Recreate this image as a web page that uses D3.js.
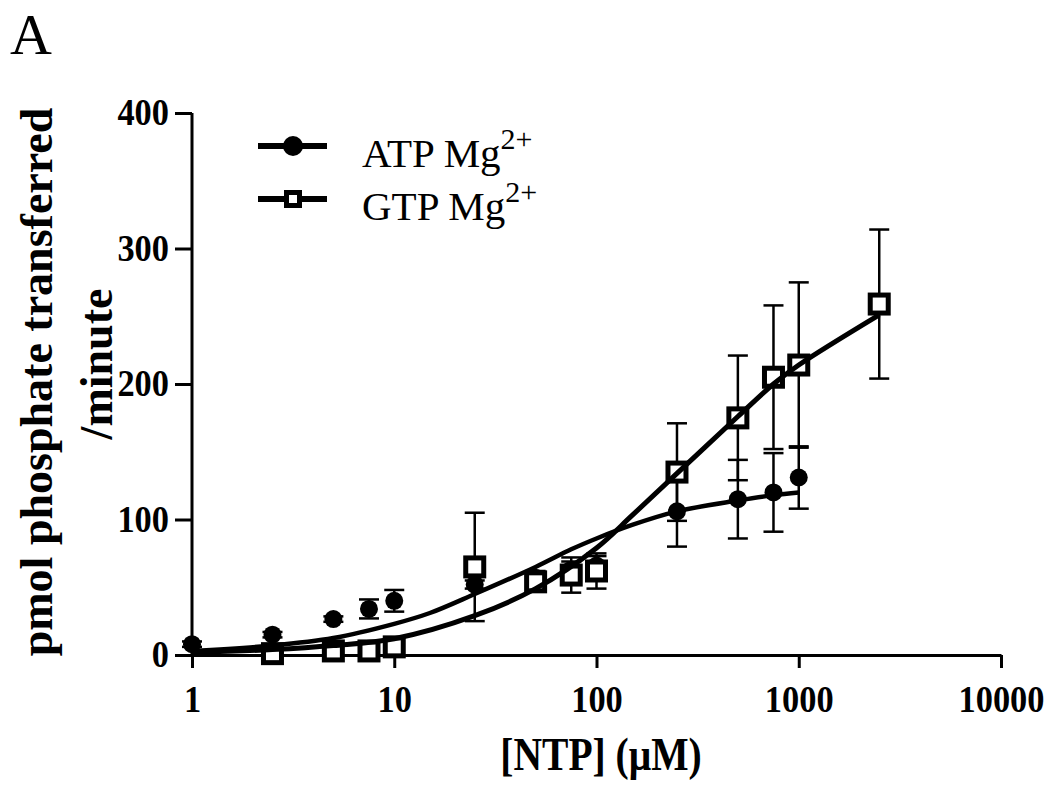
<!DOCTYPE html>
<html>
<head>
<meta charset="utf-8">
<script src="https://cdn.jsdelivr.net/npm/d3@7"></script>
<style>
  html, body { margin: 0; padding: 0; background: #fff; }
  svg { display: block; }
  text { font-family: "Liberation Serif", "Times New Roman", serif; fill: #000; }
</style>
</head>
<body>
<svg id="chart" width="1050" height="791"></svg>
<script>
// ---- data ----
const xTicks = [1, 10, 100, 1000, 10000];
const yTicks = [0, 100, 200, 300, 400];

const atpConc = [1, 2.5, 5, 7.5, 10, 25, 50, 75, 100, 250, 500, 750, 1000];
const atpRate = [8, 15, 26.5, 34, 40, 52, 57, 63, 66, 106, 115, 120, 131];
const atpErr  = [2, 2, 2, 7, 8, 3, 5, 6, 7, 26, 29, 29, 23];

const gtpConc = [2.5, 5, 7.5, 10, 25, 50, 75, 100, 250, 500, 750, 1000, 2500];
const gtpRate = [1, 3, 3, 6, 65, 54, 59, 62, 135, 175, 205, 214, 259];
const gtpErr  = [0, 0, 0, 0, 40, 5, 13, 13, 36, 46, 53, 61, 55];

// fitted curves
const atpFitConc = [1, 2.5, 5, 10, 15, 25, 50, 75, 100, 150, 250, 500, 750, 1000];
const atpFitRate = [3, 7, 12.5, 23, 31, 45, 65, 78, 86, 96, 106, 114, 118, 120];
const gtpFitConc = [1, 2.5, 5, 10, 25, 50, 100, 150, 250, 500, 750, 1000, 2500];
const gtpFitRate = [2, 4, 7, 12, 29, 49, 79, 103, 134, 176, 200, 214, 251];

const seriesNames = ["ATP Mg", "GTP Mg"];

// ---- chart ----
const svg = d3.select("#chart");
const x = d3.scaleLog().domain([1, 10000]).range([192, 1001]);
const y = d3.scaleLinear().domain([0, 400]).range([655, 113]);

const SX = 0.93;  // tick-label lettering is slightly condensed
const SXT = 0.86; // x title lettering condensed

// axes
const xAxis = svg.append("g").attr("transform", `translate(0,${y(0)})`)
  .call(d3.axisBottom(x).tickValues(xTicks).tickFormat(d3.format("d"))
        .tickSize(13).tickSizeOuter(0).tickPadding(18));
const yAxis = svg.append("g").attr("transform", `translate(${x(1)},0)`)
  .call(d3.axisLeft(y).tickValues(yTicks).tickFormat(d3.format("d"))
        .tickSize(17).tickSizeOuter(0).tickPadding(6));

[xAxis, yAxis].forEach(g => {
  g.select(".domain").attr("stroke", "#000").attr("stroke-width", 3);
  g.selectAll(".tick line").attr("stroke", "#000").attr("stroke-width", 3);
  g.selectAll(".tick text").attr("font-size", 37).attr("font-weight", "bold")
    .attr("fill", "#000").style("font-family", '"Liberation Serif", serif');
});
xAxis.selectAll(".tick text").attr("transform", `scale(${SX},1)`);
yAxis.selectAll(".tick text").each(function () {
  const t = d3.select(this);
  t.attr("x", (+t.attr("x")) / SX).attr("transform", `scale(${SX},1)`);
});
yAxis.select(".domain").attr("d", `M0,${y(400)}V${y(0)}`);

// error bars
function errorBars(conc, rate, err) {
  const g = svg.append("g").attr("stroke", "#000").attr("stroke-width", 2.5);
  conc.forEach((c, i) => {
    if (!err[i]) return;
    const cx = x(c), y1 = y(rate[i] + err[i]), y0 = y(rate[i] - err[i]);
    g.append("line").attr("x1", cx).attr("x2", cx).attr("y1", y1).attr("y2", y0);
    g.append("line").attr("x1", cx - 10).attr("x2", cx + 10).attr("y1", y1).attr("y2", y1);
    g.append("line").attr("x1", cx - 10).attr("x2", cx + 10).attr("y1", y0).attr("y2", y0);
  });
}
errorBars(gtpConc, gtpRate, gtpErr);
errorBars(atpConc, atpRate, atpErr);

// markers
svg.append("g").selectAll("circle").data(atpConc).join("circle")
  .attr("cx", d => x(d)).attr("cy", (d, i) => y(atpRate[i])).attr("r", 9).attr("fill", "#000");
svg.append("g").selectAll("rect").data(gtpConc).join("rect")
  .attr("x", d => x(d) - 9).attr("y", (d, i) => y(gtpRate[i]) - 9)
  .attr("width", 18).attr("height", 18)
  .attr("fill", "#fff").attr("stroke", "#000").attr("stroke-width", 5);

// fitted curves
const line = d3.line().x(d => x(d[0])).y(d => y(d[1])).curve(d3.curveCatmullRom.alpha(0.5));
svg.append("path").datum(atpFitConc.map((c, i) => [c, atpFitRate[i]]))
  .attr("d", line).attr("fill", "none").attr("stroke", "#000").attr("stroke-width", 4.5);
svg.append("path").datum(gtpFitConc.map((c, i) => [c, gtpFitRate[i]]))
  .attr("d", line).attr("fill", "none").attr("stroke", "#000").attr("stroke-width", 5);

// legend
const lg = svg.append("g");
[0, 1].forEach(i => {
  const ly = 146 + i * 53;
  lg.append("line").attr("x1", 258).attr("x2", 327).attr("y1", ly).attr("y2", ly)
    .attr("stroke", "#000").attr("stroke-width", 6);
  if (i === 0) lg.append("circle").attr("cx", 293).attr("cy", ly).attr("r", 10).attr("fill", "#000");
  else lg.append("rect").attr("x", 286.5).attr("y", ly - 6.5).attr("width", 13).attr("height", 13)
    .attr("fill", "#fff").attr("stroke", "#000").attr("stroke-width", 5);
  const t = lg.append("text").attr("x", 362).attr("y", ly + 21).attr("font-size", 41);
  t.append("tspan").text(seriesNames[i]);
  t.append("tspan").attr("font-size", 30).attr("dy", -18).text("2+");
});

// panel letter
svg.append("text").attr("x", 10).attr("y", 54).attr("font-size", 58).text("A");

// axis titles
svg.append("text").attr("transform", `translate(601,770) scale(${SXT},1)`)
  .attr("text-anchor", "middle").attr("font-size", 46).attr("font-weight", "bold")
  .text("[NTP] (\u03bcM)");

const yt = svg.append("g").attr("transform", "translate(52,382) rotate(-90)");
yt.append("text").attr("text-anchor", "middle").attr("font-size", 46).attr("font-weight", "bold")
  .text("pmol phosphate transferred");
yt.append("text").attr("x", 18).attr("y", 60).attr("text-anchor", "middle").attr("font-size", 46).attr("font-weight", "bold")
  .text("/minute");
</script>
</body>
</html>
